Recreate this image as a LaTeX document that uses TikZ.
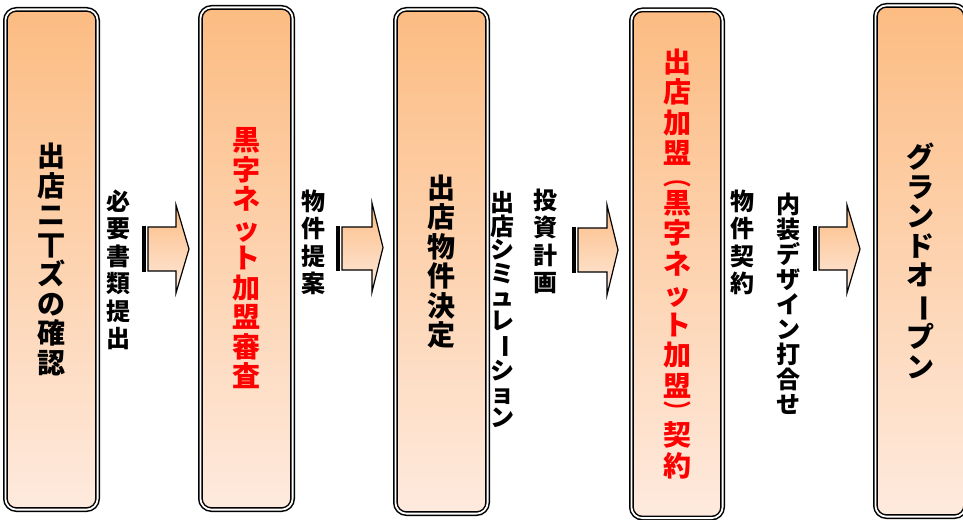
\documentclass[tikz,border=0pt]{standalone}
\usepackage{fontspec}
\setmainfont{Noto Sans CJK JP}
\definecolor{orng}{RGB}{252,188,130}
\definecolor{pale}{RGB}{254,234,222}
\definecolor{jred}{RGB}{255,0,0}
\newcommand{\vbar}{\rotatebox[origin=c]{-90}{ー}}
\newcommand{\vparen}[1]{\scalebox{1.4}[1.0]{\fontsize{20}{20}\selectfont #1}}
\tikzset{
  stagebox/.style={rectangle, rounded corners=11pt, draw=black, line width=1.5pt,
    double=white, double distance=1.8pt, top color=orng, bottom color=pale,
    inner sep=0pt, align=center, font=\bfseries\fontsize{28}{29.5}\selectfont},
  steplabel/.style={inner sep=0pt, align=center, font=\bfseries\fontsize{24}{27.5}\selectfont},
  arrowbody/.style={draw=black, line width=1.2pt, top color=orng, bottom color=pale, line join=miter},
}
\newcommand{\myblockarrow}[7]{%
  \path[arrowbody] (#1+6,#4) -- (#2,#4) -- (#2,#6) -- (#3,{(#6+#7)/2}) -- (#2,#7) -- (#2,#5) -- (#1+6,#5) -- cycle;
  \fill[black] (#1,#4-0.6) rectangle (#1+4,#5+0.6);
}
\begin{document}
\begin{tikzpicture}[x=1pt,y=-1pt]
\useasboundingbox (0,0) rectangle (963,519);
\clip (0,0) rectangle (963,519);
\fill[white] (0,0) rectangle (963,519);
% stages
\node[stagebox, minimum width=92.2pt, minimum height=500.2pt] (b1) at (51.5,259.5)
  {出\\店\\ニ\\丅\\ズ\\の\\確\\認};
\node[stagebox, minimum width=92.2pt, minimum height=502.2pt, text=jred] (b2) at (246.5,258.5)
  {黒\\字\\ネ\\ッ\\ト\\加\\盟\\審\\査};
\node[stagebox, minimum width=92.2pt, minimum height=504.2pt] (b3) at (441.5,261.5)
  {出\\店\\物\\件\\決\\定};
\node[stagebox, minimum width=91.2pt, minimum height=508.2pt, text=jred,
      font=\bfseries\fontsize{28}{30.5}\selectfont] (b4) at (677,264)
  {出\\店\\加\\盟\\[-8.5pt]\vparen{︵}\\[-3pt]黒\\字\\ネ\\ッ\\ト\\加\\盟\\[-8.5pt]\vparen{︶}\\[-3pt]契\\約};
\node[stagebox, minimum width=90.2pt, minimum height=511.2pt] (b5) at (920.5,261)
  {グ\\ラ\\ン\\ド\\オ\\\vbar\\プ\\ン};
% labels
\node[steplabel] (l1) at (118,270) {必\\要\\書\\類\\提\\出};
\node[steplabel] (l2) at (313,242.5) {物\\件\\提\\案};
\node[steplabel, font=\bfseries\fontsize{24}{23.5}\selectfont] (l3a) at (502,309.5)
  {出\\店\\シ\\ミ\\ュ\\レ\\\vbar\\シ\\ョ\\ン};
\node[steplabel] (l3b) at (545,241.5) {投\\資\\計\\画};
\node[steplabel] (l4a) at (742,242.5) {物\\件\\契\\約};
\node[steplabel, font=\bfseries\fontsize{24}{25}\selectfont] (l4b) at (788,304)
  {内\\装\\デ\\ザ\\イ\\ン\\打\\合\\せ};
% block arrows
\myblockarrow{142}{176}{189}{227}{271}{205}{293}
\myblockarrow{336}{372}{383}{227}{270}{203}{292}
\myblockarrow{572}{607}{618}{228}{272}{205}{295}
\myblockarrow{813}{847}{860}{227}{270}{205}{293}
\end{tikzpicture}
\end{document}
